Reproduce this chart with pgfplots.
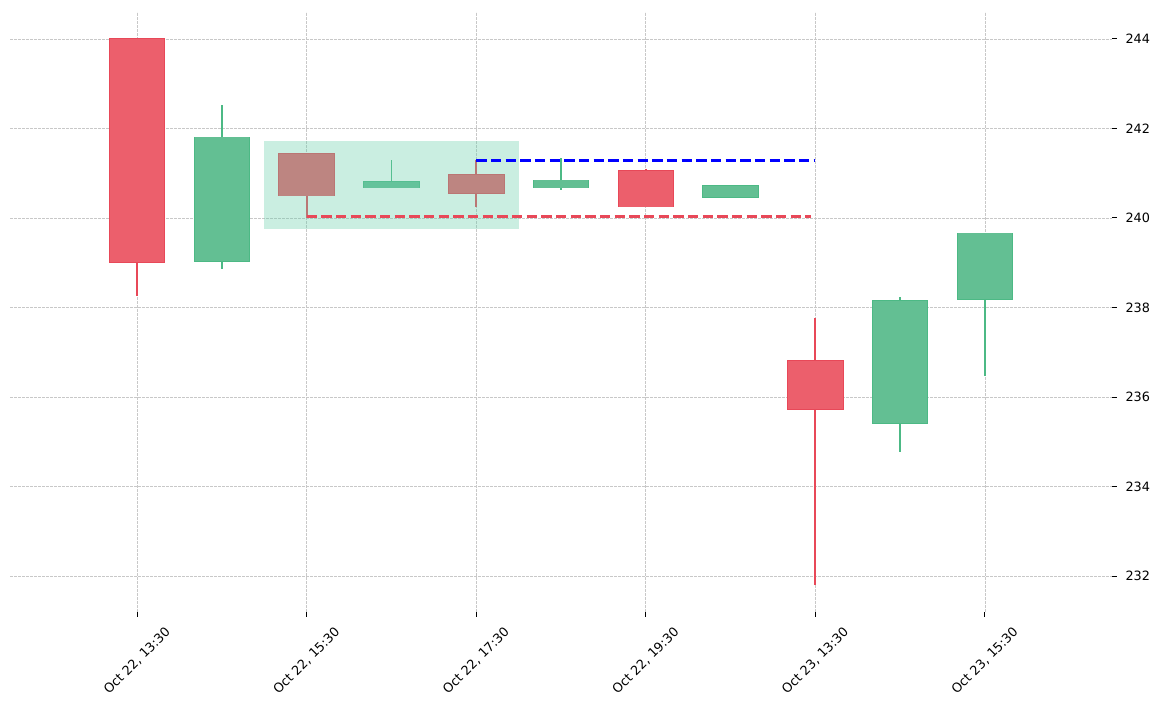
\documentclass[border=0pt]{standalone}
\usepackage{fontspec}
\setmainfont{DejaVu Sans}
\usepackage{pgfplots}
\usepackage{pgfplotstable}
\pgfplotsset{compat=1.18}

\definecolor{redfill}{RGB}{236,95,108}
\definecolor{rededge}{RGB}{232,72,88}
\definecolor{greenfill}{RGB}{99,191,147}
\definecolor{greenedge}{RGB}{76,185,133}
\definecolor{hilite}{RGB}{102,205,170}
\definecolor{gridgray}{RGB}{200,200,200}
\definecolor{dashred}{RGB}{232,72,88}

% falling candles
\pgfplotstableread{
x open close high low
0 244.00 239.01 244.00 238.25
2 241.43 240.50 241.43 240.01
4 240.96 240.55 241.29 240.25
6 241.05 240.25 241.09 240.25
8 236.81 235.73 237.76 231.81
}\redcandles

% rising candles
\pgfplotstableread{
x open close high low
1 239.04 241.80 242.53 238.87
3 240.68 240.81 241.29 240.68
5 240.68 240.84 241.33 240.62
7 240.46 240.72 240.72 240.46
9 235.42 238.15 238.24 234.77
10 238.19 239.66 239.66 236.48
}\greencandles

\pgfplotsset{
  wick/.style={mark=none, draw=none, forget plot,
    error bars/.cd, y dir=both, y explicit, error mark=none,
    error bar style={draw=#1, line width=1.3pt}},
  body/.style n args={2}{mark=none, draw=none, forget plot,
    error bars/.cd, y dir=both, y explicit, error mark=none,
    error bar style={draw=#1, line width=#2}},
}

\begin{document}
\begin{tikzpicture}
\begin{axis}[
  scale only axis,
  width=826.5pt, height=450pt,
  xmin=-1.5, xmax=11.5,
  ymin=231.2, ymax=244.6,
  axis line style={draw=none},
  xtick={0,2,...,10},
  xticklabels={{Oct 22, 13:30},{Oct 22, 15:30},{Oct 22, 17:30},{Oct 22, 19:30},{Oct 23, 13:30},{Oct 23, 15:30}},
  ytick={232,234,...,244},
  xtick pos=bottom, ytick pos=right,
  yticklabel pos=right,
  tick align=outside,
  major tick length=3.6pt,
  tick style={black, line width=0.8pt},
  grid=major,
  major grid style={gridgray, line width=0.45pt, dash pattern=on 2pt off 1pt},
  /pgf/number format/assume math mode=true,
  ticklabel style={font=\fontsize{9.6}{11}\selectfont},
  yticklabel style={xshift=3pt},
  xticklabel style={yshift=-33pt, rotate=45, anchor=center},
]
% wicks
\addplot[wick=rededge] table[x=x, y expr={(\thisrow{high}+\thisrow{low})/2},
  y error expr={(\thisrow{high}-\thisrow{low})/2}] {\redcandles};
\addplot[wick=greenedge] table[x=x, y expr={(\thisrow{high}+\thisrow{low})/2},
  y error expr={(\thisrow{high}-\thisrow{low})/2}] {\greencandles};
% bodies: edge then fill
\addplot[body={rededge}{42.4pt}] table[x=x, y expr={(\thisrow{open}+\thisrow{close})/2},
  y error expr={abs(\thisrow{open}-\thisrow{close})/2+0.016}] {\redcandles};
\addplot[body={redfill}{40.9pt}] table[x=x, y expr={(\thisrow{open}+\thisrow{close})/2},
  y error expr={abs(\thisrow{open}-\thisrow{close})/2}] {\redcandles};
\addplot[body={greenedge}{42.4pt}] table[x=x, y expr={(\thisrow{open}+\thisrow{close})/2},
  y error expr={abs(\thisrow{open}-\thisrow{close})/2+0.016}] {\greencandles};
\addplot[body={greenfill}{40.9pt}] table[x=x, y expr={(\thisrow{open}+\thisrow{close})/2},
  y error expr={abs(\thisrow{open}-\thisrow{close})/2}] {\greencandles};
% highlighted range
\addplot[fill=hilite, fill opacity=0.35, draw=none, forget plot]
  coordinates {(1.5,239.76) (4.5,239.76) (4.5,241.72) (1.5,241.72)} -- cycle;
% levels
\addplot[blue, line width=2.05pt, dash pattern=on 7.7pt off 3.3pt, forget plot]
  coordinates {(4,241.29) (8,241.29)};
\addplot[dashred, line width=2.05pt, dash pattern=on 7.7pt off 3.3pt, forget plot]
  coordinates {(2,240.03) (7.95,240.03)};
\end{axis}
\pgfresetboundingbox
\path[use as bounding box] ([xshift=-7.5pt,yshift=-73.5pt]current axis.south west)
  rectangle ([xshift=40.5pt,yshift=9pt]current axis.north east);
\end{tikzpicture}
\end{document}
